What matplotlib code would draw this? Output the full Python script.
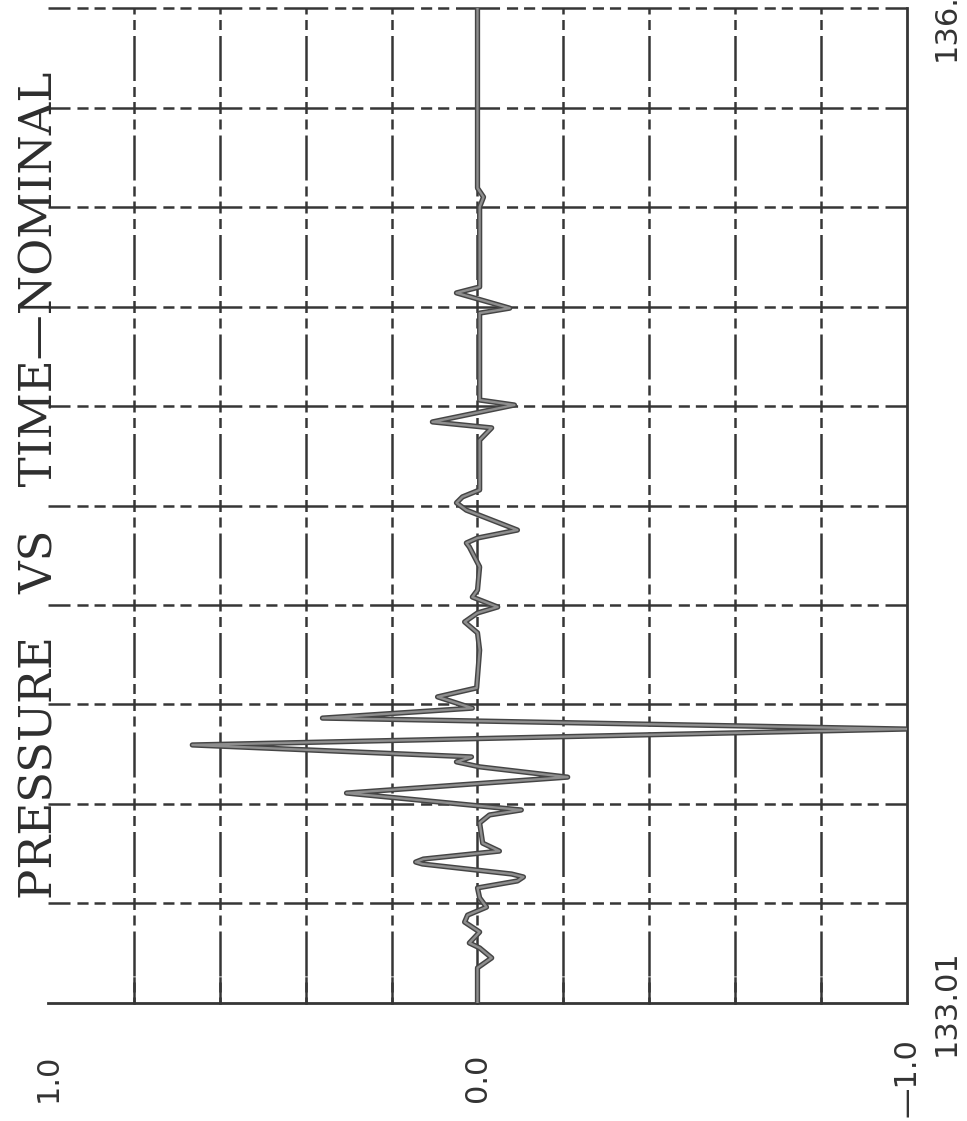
import matplotlib
matplotlib.use("Agg")
import matplotlib.pyplot as plt
import numpy as np

# pressure trace (time axis runs bottom -> top,
# pressure axis runs right (-1) -> left (+1))
time = [133.010, 133.116, 133.146, 133.176, 133.191, 133.224, 133.254, 133.275,
        133.299, 133.327, 133.357, 133.378, 133.390, 133.399, 133.429, 133.435,
        133.444, 133.468, 133.492, 133.553,
        133.577, 133.592, 133.643, 133.691, 133.722, 133.737, 133.752, 133.788,
        133.836, 133.869, 133.899, 133.933, 133.960, 134.074, 134.126, 134.159,
        134.186, 134.204, 134.234, 134.255, 134.325, 134.385, 134.397, 134.412,
        134.436, 134.496, 134.518, 134.536, 134.557, 134.707, 134.744, 134.762,
        134.813, 134.828, 135.090, 135.105, 135.151, 135.169, 135.410, 135.440,
        135.467, 136.010]
pressure = [0.000, 0.000, -0.033, -0.005, 0.019, -0.005, 0.030, 0.023,
            -0.021, -0.005, 0.000, -0.093, -0.107, -0.079, 0.128, 0.144,
            0.126, -0.051, -0.012, -0.005,
            -0.028, -0.102, 0.305, -0.210, -0.005, 0.049, 0.014, 0.664,
            -0.999, 0.361, 0.012, 0.093, 0.002, -0.005, 0.000, 0.030,
            0.000, -0.047, 0.012, 0.000, -0.005, 0.019, 0.026, 0.000,
            -0.093, 0.026, 0.049, 0.035, -0.005, -0.005, -0.033, 0.105,
            -0.086, -0.005, -0.005, -0.075, 0.049, -0.005, -0.005, -0.014,
            0.000, 0.000]

p_ticks = [1.0, 0.0, -1.0]
p_labels = ["1.0", "0.0", "\u20141.0"]
t_ticks = [133.01, 136.01]
t_labels = ["133.01", "136.01"]
title = "PRESSURE   VS   TIME\u2014NOMINAL"

plt.rcParams['lines.scale_dashes'] = False

fig = plt.figure(figsize=(9.67, 11.21), dpi=100)
ax = fig.add_axes([48 / 967, 118 / 1121, 859 / 967, 995 / 1121])
ax.set_xlim(1.0, -1.0)
ax.set_ylim(133.01, 136.01)
ax.axis('off')

ink = '#363636'
p_grid = np.linspace(-0.8, 0.8, 9)
t_grid = np.linspace(133.01, 136.01, 11)

# dashed grid: long dash across each crossing, two short ones between
h_style = (15.85, (31.7, 5.0, 8.0, 4.3, 8.0, 4.85))
v_style = (4.32, (8.64, 3.6, 7.2, 4.32, 32.4, 4.32, 7.2, 3.96))
for t in t_grid[1:]:
    ax.plot([1.0, -1.0], [t, t], color=ink, lw=1.8, linestyle=h_style, clip_on=False)
for p in p_grid:
    ax.plot([p, p], [133.01, 136.01], color=ink, lw=1.8, linestyle=v_style, clip_on=False)
    ax.plot([p, p], [133.01, 133.085], color=ink, lw=1.8, clip_on=False)

# solid bottom axis and right frame
ax.plot([1.0, -1.0], [133.01, 133.01], color=ink, lw=2.0, clip_on=False)
ax.plot([-1.0, -1.0], [133.01, 136.01], color=ink, lw=2.0, clip_on=False)

# the trace: dark outline with a grey core, like the scanned pen line
ax.plot(pressure, time, color='#454545', lw=3.8, solid_joinstyle='round',
        solid_capstyle='round', zorder=5)
ax.plot(pressure, time, color='#8e8e8e', lw=1.7, solid_joinstyle='round',
        solid_capstyle='round', zorder=6)

lab_font = dict(family='DejaVu Sans', fontsize=22, color='#333333',
                rotation=90, ha='center', va='center')
for p, s in zip(p_ticks, p_labels):
    ax.text(p, -0.0754, s, transform=ax.get_xaxis_transform(), clip_on=False, **lab_font)
for t, s in zip(t_ticks, t_labels):
    ax.text(1.0454, t, s, transform=ax.get_yaxis_transform(), clip_on=False, **lab_font)

ax.text(-0.0093, 0.5206, title, transform=ax.transAxes, rotation=90,
        ha='center', va='center', family='DejaVu Serif',
        fontsize=32.5, color='#2e2e2e', clip_on=False)

fig.savefig("out.png", dpi=100, facecolor='white')
